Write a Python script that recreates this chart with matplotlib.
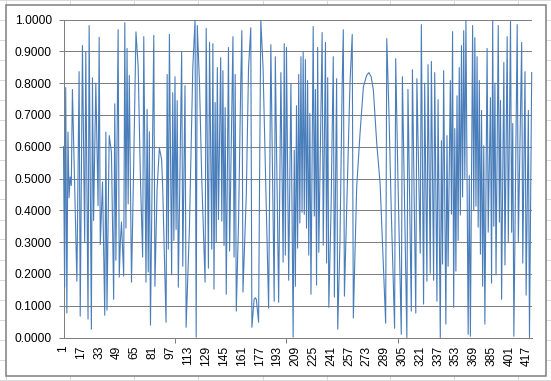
import matplotlib
matplotlib.use('Agg')
import matplotlib.pyplot as plt
from matplotlib.lines import Line2D
from matplotlib.patches import Rectangle

# Werte (Kategorie / Wert an den Spitzen und Tälern)
categories = [
    1, 2, 3, 4, 5, 6, 7, 8, 9, 13, 15, 16, 18, 20, 21, 23, 24, 26, 27, 28, 30, 32, 33, 34, 36, 38, 39, 40,
    42, 44, 46, 47, 48, 50, 51, 52, 53, 55, 56, 57, 58, 59, 60, 62, 64, 66, 68, 70, 72, 73, 75, 76, 77, 78,
    79, 82, 83, 85, 87, 89, 90, 93, 94, 95, 96, 98, 99, 100, 101, 102, 103, 104, 107, 108, 110, 111, 114,
    117, 119, 120, 121, 123, 125, 128, 129, 131, 132, 134, 135, 136, 137, 138, 139, 140, 142, 143, 144,
    145, 146, 147, 149, 150, 153, 154, 155, 156, 158, 160, 161, 162, 165, 167, 169, 170, 172, 173, 174,
    176, 177, 178, 180, 182, 184, 185, 187, 190, 191, 194, 196, 198, 199, 200, 201, 203, 205, 207, 208,
    209, 210, 211, 212, 213, 214, 215, 216, 217, 218, 219, 220, 221, 222, 223, 225, 226, 227, 228, 229,
    230, 233, 234, 236, 237, 238, 239, 241, 243, 244, 246, 247, 249, 251, 252, 253, 255, 258, 260, 261,
    264, 267, 270, 273, 275, 277, 279, 282, 285, 290, 291, 293, 295, 298, 299, 301, 304, 305, 309, 310,
    313, 314, 317, 318, 321, 322, 324, 325, 327, 328, 330, 331, 333, 334, 336, 337, 339, 340, 341, 342,
    344, 345, 346, 348, 349, 350, 351, 352, 353, 354, 355, 356, 357, 358, 359, 360, 361, 362, 364, 365,
    366, 368, 369, 370, 371, 372, 373, 374, 375, 376, 377, 378, 379, 381, 382, 384, 385, 386, 387, 388,
    389, 391, 392, 393, 394, 396, 397, 399, 400, 402, 403, 404, 405, 408, 409, 412, 413, 415, 416, 418,
    419, 421,
]
values = [
    .60, .158, .786, .077, .646, .44, .505, .478, .78, .177, .836, .067, .918, .30, .898, .058, .981, .026,
    .817, .368, .80, .415, .944, .292, .489, .07, .646, .086, .635, .583, .12, .735, .243, .968, .19, .30,
    .363, .193, .99, .344, .909, .42, .824, .174, .55, .961, .85, .50, .253, .946, .174, .717, .206, .647,
    .039, .95, .161, .47, .596, .56, .47, .048, .827, .278, .953, .197, .77, .305, .82, .34, .745, .158,
    .899, .224, .792, .032, .35, .85, .998, .001, .981, .80, .50, .174, .972, .218, .928, .278, .924, .152,
    .739, .30, .849, .371, .88, .366, .839, .289, .723, .136, .912, .272, .946, .253, .827, .083, .36, .80,
    .965, .143, .45, .85, .974, .032, .12, .125, .12, .048, .55, .997, .85, .55, .25, .092, .921, .114,
    .883, .111, .833, .237, .924, .259, .912, .18, .798, .001, .589, .161, .729, .281, .827, .36, .883,
    .394, .899, .387, .874, .344, .808, .259, .704, .136, .978, .382, .78, .165, .912, .268, .959, .29,
    .928, .234, .817, .095, .40, .883, .127, .814, .026, .30, .80, .968, .13, .40, .80, .953, .061, .473,
    .642, .788, .825, .833, .82, .777, .61, .485, .045, .94, .70, .40, .029, .877, .50, .01, .82, 0, .78,
    .083, .842, .077, .814, .265, .984, .105, .80, .177, .858, .202, .868, .18, .833, .114, .748, 0, .619,
    .231, .839, .042, .635, .224, .808, .388, .962, .095, .657, .209, .76, .305, .849, .385, .918, .442,
    .965, .50, .997, .01, .509, .004, .981, .40, .943, .413, .883, .347, .808, .262, .714, .161, .603,
    .042, .909, .331, .754, .171, .997, .35, .80, .197, .981, .363, .745, .12, .865, .228, .946, .298,
    .994, .331, .673, .004, .984, .30, .928, .234, .836, .133, .714, 0, .833,
]
label_ticks = list(range(1, 418, 16))
mark_ticks = [1, 101, 201, 301, 401]
y_ticks = [i / 10 for i in range(11)]

W, H = 551, 381
GREY = '#7f7f7f'
BLUE = '#4a7ebb'
SHEET = '#d9d9d9'

plt.rcParams['font.family'] = ['Liberation Sans', 'DejaVu Sans']
fig = plt.figure(figsize=(W / 100, H / 100), dpi=100, facecolor='white')

# Tabellenraster hinter dem Diagramm
for px in [5, 69, 133, 197, 262, 326, 389, 453, 517]:
    fig.add_artist(Line2D([(px + .5) / W] * 2, [0, 1], color=SHEET, lw=.72, zorder=0))
for py in range(0, 381, 20):
    fig.add_artist(Line2D([0, 1], [1 - (py - .5) / H] * 2, color=SHEET, lw=.72, zorder=0))
fig.add_artist(Rectangle((5.5 / W, 1 - 375.5 / H), 540.5 / W, 370.5 / H, facecolor='white',
                         edgecolor=GREY, lw=1.1, zorder=1))

ax = fig.add_axes([63.5 / W, 1 - 337.5 / H, 468.2 / W, 318 / H], zorder=2)
ax.patch.set_alpha(0)
ax.plot(categories, values, color=BLUE, lw=.8, clip_on=False, zorder=3)

ax.set_xlim(1, 421)
ax.set_ylim(0, 1)
ax.set_yticks(y_ticks)
ax.set_yticklabels([f'{v:.4f}' for v in y_ticks])
ax.set_xticks(label_ticks)
ax.set_xticklabels([str(v) for v in label_ticks], rotation=90)
ax.set_xticks(mark_ticks, minor=True)
ax.grid(axis='y', color=GREY, lw=.72, zorder=1)
ax.set_axisbelow(True)
ax.spines[['top', 'right']].set_visible(False)
ax.spines[['left', 'bottom']].set_color(GREY)
ax.spines[['left', 'bottom']].set_linewidth(.72)
ax.tick_params(axis='x', which='major', length=0, pad=5.8, labelsize=8.64, labelcolor='black')
ax.tick_params(axis='x', which='minor', length=3.6, width=.72, color=GREY)
ax.tick_params(axis='y', length=3.6, width=.72, color=GREY, pad=4.8, labelsize=8.64, labelcolor='black')

fig.savefig('out.png', dpi=100)
